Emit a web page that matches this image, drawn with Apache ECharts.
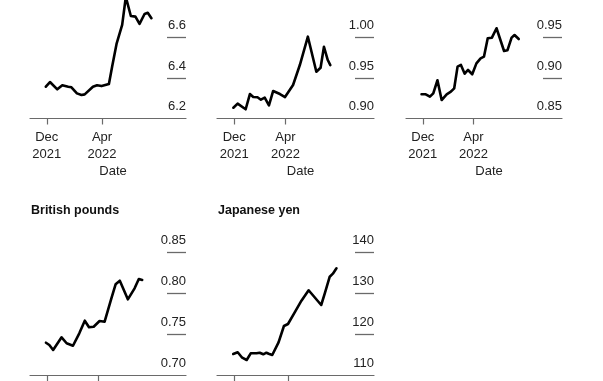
<!DOCTYPE html>
<html>
<head>
<meta charset="utf-8">
<script src="https://cdn.jsdelivr.net/npm/echarts@6/dist/echarts.min.js"></script>
<style>
html,body{margin:0;padding:0;background:#fff;}
#chart{width:603px;height:381px;}
</style>
</head>
<body>
<div id="chart"></div>
<script>
// ---- data ----
const panel1Dates = ['2021-11-29','2021-12-08','2021-12-24','2022-01-04','2022-01-17','2022-01-24','2022-02-05','2022-02-15','2022-02-22','2022-03-12','2022-03-21','2022-03-31','2022-04-16','2022-04-23','2022-05-03','2022-05-15','2022-05-23','2022-06-03','2022-06-13','2022-06-22','2022-07-03','2022-07-10','2022-07-18'];
const panel1Values = [6.357,6.380,6.344,6.364,6.357,6.354,6.324,6.316,6.319,6.357,6.364,6.360,6.370,6.456,6.571,6.662,6.800,6.706,6.703,6.667,6.716,6.722,6.695];

const panel2Dates = ['2021-11-29','2021-12-09','2021-12-28','2022-01-07','2022-01-15','2022-01-25','2022-02-02','2022-02-11','2022-02-21','2022-03-03','2022-03-19','2022-03-31','2022-04-19','2022-05-05','2022-05-24','2022-06-13','2022-06-23','2022-07-01','2022-07-10','2022-07-16'];
const panel2Values = [0.9133,0.9183,0.9114,0.9302,0.9265,0.9262,0.9232,0.9257,0.9163,0.9340,0.9302,0.9265,0.9414,0.9660,1.0010,0.9578,0.9627,0.9886,0.9722,0.9660];

const panel3Dates = ['2021-11-28','2021-12-08','2021-12-18','2021-12-26','2022-01-05','2022-01-15','2022-01-27','2022-02-06','2022-02-14','2022-02-22','2022-03-02','2022-03-11','2022-03-19','2022-03-29','2022-04-08','2022-04-18','2022-04-26','2022-05-05','2022-05-15','2022-05-26','2022-06-13','2022-06-21','2022-07-01','2022-07-08','2022-07-18'];
const panel3Values = [0.8799,0.8799,0.8769,0.8811,0.8972,0.8728,0.8799,0.8831,0.8873,0.9140,0.9161,0.9053,0.9099,0.9046,0.9181,0.9243,0.9263,0.9490,0.9498,0.9614,0.9333,0.9342,0.9498,0.9531,0.9481];

const gbpDates = ['2021-11-29','2021-12-07','2021-12-16','2022-01-05','2022-01-17','2022-02-01','2022-02-16','2022-03-01','2022-03-11','2022-03-22','2022-04-05','2022-04-17','2022-05-03','2022-05-13','2022-05-23','2022-06-11','2022-06-27','2022-07-07','2022-07-15'];
const gbpValues = [0.7396,0.7368,0.7307,0.7462,0.7389,0.7359,0.7511,0.7666,0.7585,0.7592,0.7662,0.7654,0.7941,0.8112,0.8156,0.7928,0.8063,0.8177,0.8165];

const jpyDates = ['2021-11-29','2021-12-09','2021-12-19','2021-12-29','2022-01-07','2022-01-20','2022-01-27','2022-02-04','2022-02-11','2022-02-16','2022-02-24','2022-03-10','2022-03-22','2022-03-31','2022-04-15','2022-04-30','2022-05-16','2022-06-13','2022-06-21','2022-07-02','2022-07-09','2022-07-17'];
const jpyValues = [115.15,115.57,114.24,113.68,115.32,115.32,115.47,115.08,115.47,115.22,114.91,118.02,122.02,122.51,125.38,128.22,130.78,127.17,130.04,134.11,134.85,136.17];

const panelTitles = ['', '', '', 'British pounds', 'Japanese yen'];
const xTickDates = ['2021-12-01', '2022-04-01'];
const monthNames = ['Jan','Feb','Mar','Apr','May','Jun','Jul','Aug','Sep','Oct','Nov','Dec'];
const yLabels1 = [6.2, 6.4, 6.6];
const yLabels2 = [0.90, 0.95, 1.00];
const yLabels3 = [0.85, 0.90, 0.95];
const yLabels4 = [0.70, 0.75, 0.80, 0.85];
const yLabels5 = [110, 120, 130, 140];

// ---- layout / config ----
function parseLocal(s){ const p = s.split('-').map(Number); return new Date(p[0], p[1]-1, p[2]).getTime(); }
const DAY = 86400000;
const W = 603, H = 381;
const DEC1 = parseLocal(xTickDates[0]);
const xTicks = xTickDates.map(parseLocal);

const panels = [
  {dates: panel1Dates, values: panel1Values, labels: yLabels1, dec: 1, yMin: 6.2, yMax: 6.785, xr: [-36.7, 304.7], left: 30, width: 156, top: 0, height: 118.5},
  {dates: panel2Dates, values: panel2Values, labels: yLabels2, dec: 2, yMin: 0.90, yMax: 1.0463, xr: [-40.7, 330.2], left: 217, width: 157, top: 0, height: 118.5},
  {dates: panel3Dates, values: panel3Values, labels: yLabels3, dec: 2, yMin: 0.85, yMax: 0.9963, xr: [-40.1, 332.3], left: 406, width: 156, top: 0, height: 118.5},
  {dates: gbpDates, values: gbpValues, labels: yLabels4, dec: 2, yMin: 0.70, yMax: 0.875, xr: [-39.8, 329.8], left: 30, width: 156, top: 232.3, height: 142.7},
  {dates: jpyDates, values: jpyValues, labels: yLabels5, dec: 0, yMin: 110, yMax: 145, xr: [-38.1, 311.6], left: 217, width: 157, top: 232.3, height: 142.7}
];

const FONT = '"Liberation Sans", Arial, Helvetica, sans-serif';
const grid = [], xAxis = [], yAxis = [], series = [], title = [];

panels.forEach((p, i) => {
  grid.push({
    left: p.left, top: p.top,
    right: W - p.left - p.width, bottom: H - p.top - p.height,
    containLabel: false, outerBoundsMode: 'none'
  });
  xAxis.push({
    type: 'value', gridIndex: i,
    min: DEC1 + p.xr[0] * DAY, max: DEC1 + p.xr[1] * DAY,
    axisLine: {show: true, onZero: false, lineStyle: {color: '#6a6a6a', width: 1.2}},
    axisTick: {show: true, customValues: xTicks, length: 6, lineStyle: {color: '#6a6a6a', width: 1.2}},
    axisLabel: {
      customValues: xTicks, margin: 10, fontSize: 13, lineHeight: 17, color: '#222', fontFamily: FONT,
      formatter: function (v) { const d = new Date(v); return monthNames[d.getMonth()] + '\n' + d.getFullYear(); }
    },
    splitLine: {show: false},
    name: 'Date', nameLocation: 'middle', nameGap: 46,
    nameTextStyle: {fontSize: 13, color: '#222', fontFamily: FONT, padding: [0, 0, 0, 10]}
  });
  const tickVals = p.labels.slice(1);
  yAxis.push({
    type: 'value', gridIndex: i, position: 'right',
    min: p.yMin, max: p.yMax,
    axisLine: {show: false},
    splitLine: {show: false},
    axisTick: {show: true, inside: true, length: 19, customValues: tickVals, lineStyle: {color: '#6a6a6a', width: 1.3}},
    axisLabel: {
      inside: true, customValues: p.labels, margin: 0, color: '#222',
      formatter: function (v) { return '{t|' + Number(v).toFixed(p.dec) + '}'; },
      rich: {t: {fontSize: 13, fontFamily: FONT, color: '#222', lineHeight: 15, padding: [0, 0, 24, 0]}}
    }
  });
  series.push({
    type: 'line', xAxisIndex: i, yAxisIndex: i,
    data: p.dates.map((d, k) => [parseLocal(d), p.values[k]]),
    showSymbol: false, symbol: 'none', clip: true,
    lineStyle: {color: '#000', width: 2.6, join: 'round', cap: 'round'},
    animation: false
  });
  if (panelTitles[i]) {
    title.push({
      text: panelTitles[i], left: p.left + 1, top: 204, padding: 0,
      textStyle: {fontSize: 12.5, fontWeight: 'bold', color: '#111', fontFamily: FONT}
    });
  }
});

const chart = echarts.init(document.getElementById('chart'), null, {renderer: 'canvas'});
chart.setOption({
  backgroundColor: '#fff',
  animation: false,
  title: title,
  grid: grid,
  xAxis: xAxis,
  yAxis: yAxis,
  series: series
});
</script>
</body>
</html>
